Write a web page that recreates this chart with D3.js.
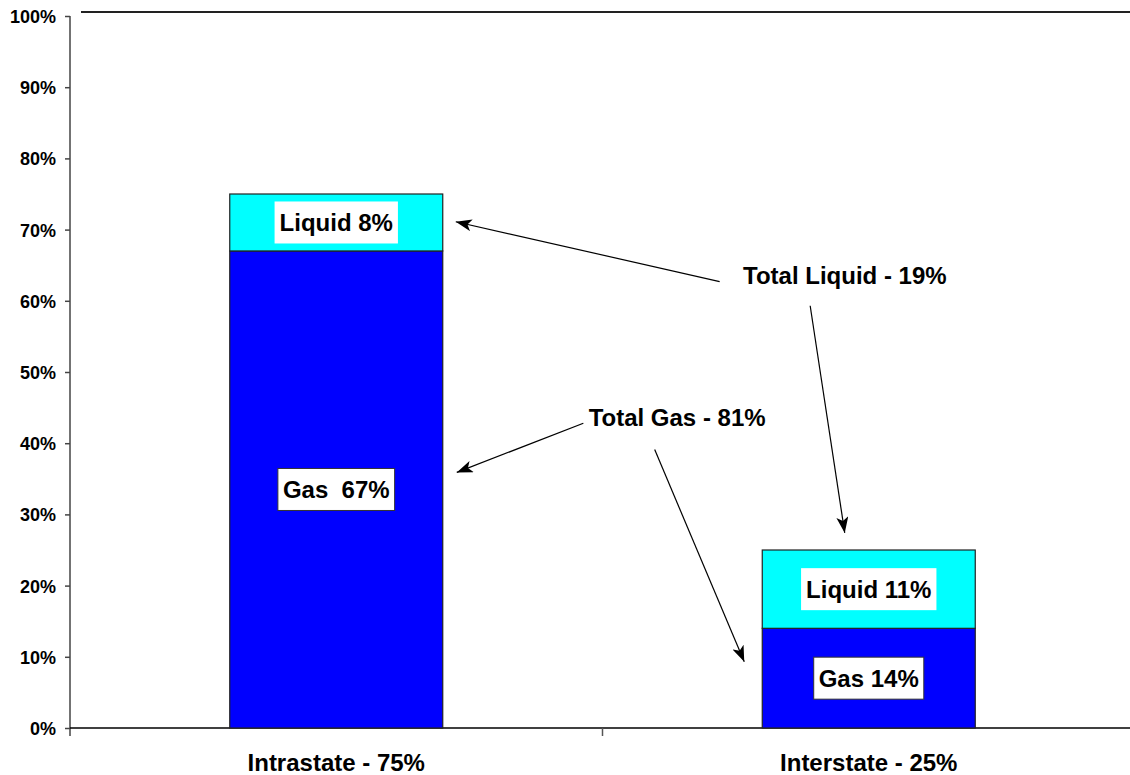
<!DOCTYPE html>
<html>
<head>
<meta charset="utf-8">
<script src="https://cdn.jsdelivr.net/npm/d3@7/dist/d3.min.js"></script>
<style>
  html, body { margin: 0; padding: 0; background: #fff; }
  svg { display: block; }
  text { font-family: Arial, "Liberation Sans", sans-serif; font-weight: bold; fill: #000; white-space: pre; }
</style>
</head>
<body>
<svg id="chart" width="1130" height="775"></svg>
<script>
// Share of volume by jurisdiction, split into gas and liquid
const categories = ["Intrastate - 75%", "Interstate - 25%"];
const gasValues = [67, 14];
const liquidValues = [8, 11];
const gasLabels = ["Gas  67%", "Gas 14%"];
const liquidLabels = ["Liquid 8%", "Liquid 11%"];
const yTicks = [0, 10, 20, 30, 40, 50, 60, 70, 80, 90, 100];

const svg = d3.select("#chart");
const W = 1130, H = 775;
const m = { left: 70, right: 1135, top: 16, bottom: 728 };

const x = d3.scaleBand().domain(categories).range([m.left, m.right]).paddingInner(0).paddingOuter(0);
const y = d3.scaleLinear().domain([0, 100]).range([m.bottom, m.top]);
const barW = x.bandwidth() * 0.4;
const cx = c => x(c) + x.bandwidth() / 2;

// frame line across the top of the plot area
svg.append("line")
  .attr("x1", m.left + 11).attr("x2", W)
  .attr("y1", m.top - 4).attr("y2", m.top - 4)
  .attr("stroke", "#222").attr("stroke-width", 2);

// y axis
const yAxis = svg.append("g").attr("transform", `translate(${m.left},0)`)
  .call(d3.axisLeft(y).tickValues(yTicks).tickFormat(d => d + "%").tickSize(5).tickPadding(9));
yAxis.select(".domain").remove();
yAxis.append("line").attr("x1", 0).attr("x2", 0).attr("y1", m.top).attr("y2", m.bottom + 8)
  .attr("stroke", "#444").attr("stroke-width", 1.5);
yAxis.selectAll(".tick line").attr("stroke", "#444").attr("stroke-width", 1.5);
yAxis.selectAll(".tick text").style("font-size", "18px").attr("dy", "0.36em");

// x axis
const xAxis = svg.append("g").attr("transform", `translate(0,${m.bottom})`);
xAxis.append("line").attr("x1", m.left).attr("x2", W).attr("stroke", "#000").attr("stroke-width", 1.5);
xAxis.selectAll(".sep").data(categories.slice(1)).enter().append("line")
  .attr("x1", d => x(d)).attr("x2", d => x(d)).attr("y1", 0).attr("y2", 8)
  .attr("stroke", "#555").attr("stroke-width", 1.5);
xAxis.selectAll(".cat").data(categories).enter().append("text")
  .attr("x", d => cx(d)).attr("y", 43)
  .attr("text-anchor", "middle").style("font-size", "24px")
  .text(d => d);

// stacked bars
const rows = categories.map((c, i) => ({
  cat: c, gas: gasValues[i], liquid: liquidValues[i],
  gasLabel: gasLabels[i], liquidLabel: liquidLabels[i]
}));

const bars = svg.append("g");
bars.selectAll(".gas").data(rows).enter().append("rect")
  .attr("x", d => cx(d.cat) - barW / 2).attr("width", barW)
  .attr("y", d => y(d.gas)).attr("height", d => y(0) - y(d.gas))
  .attr("fill", "#0000ff").attr("stroke", "#222").attr("stroke-width", 1.2);
bars.selectAll(".liq").data(rows).enter().append("rect")
  .attr("x", d => cx(d.cat) - barW / 2).attr("width", barW)
  .attr("y", d => y(d.gas + d.liquid)).attr("height", d => y(d.gas) - y(d.gas + d.liquid))
  .attr("fill", "#00ffff").attr("stroke", "#222").attr("stroke-width", 1.2);

// boxed segment labels
function boxedLabel(g, px, py, str, size, border) {
  const t = g.append("text").attr("x", px).attr("y", py).attr("dy", "0.36em")
    .attr("text-anchor", "middle").style("font-size", size + "px").text(str);
  const bb = t.node().getBBox();
  g.insert("rect", "text")
    .attr("x", bb.x - 5).attr("y", py - 21).attr("width", bb.width + 10).attr("height", 42)
    .attr("fill", "#fff").attr("stroke", border ? "#333" : "none").attr("stroke-width", 1);
}
rows.forEach(d => {
  const g1 = svg.append("g");
  boxedLabel(g1, cx(d.cat), y(d.gas / 2), d.gasLabel, 24, true);
  const g2 = svg.append("g");
  boxedLabel(g2, cx(d.cat), y(d.gas + d.liquid / 2), d.liquidLabel, 24, false);
});

// callouts with arrows
const defs = svg.append("defs");
defs.append("marker").attr("id", "head").attr("viewBox", "0 0 16 12")
  .attr("refX", 16).attr("refY", 6).attr("markerWidth", 16).attr("markerHeight", 12)
  .attr("markerUnits", "userSpaceOnUse").attr("orient", "auto")
  .append("path").attr("d", "M0,0 L16,6 L0,12 L4,6 Z").attr("fill", "#000");

const px = d3.scaleLinear().domain([0, 1]).range([m.left, m.right]);
const barL = c => cx(c) - barW / 2, barR = c => cx(c) + barW / 2;

const callouts = [
  { text: "Total Liquid - 19%", tx: px(0.632), ty: y(62.3) },
  { text: "Total Gas - 81%", tx: px(0.487), ty: y(42.4) }
];
svg.selectAll(".callout").data(callouts).enter().append("text")
  .attr("x", d => d.tx).attr("y", d => d.ty)
  .style("font-size", "24px").text(d => d.text);

const arrows = [
  { x1: px(0.61), y1: y(62.7), x2: barR(categories[0]) + 13, y2: y(71.1) },
  { x1: px(0.695), y1: y(59.3), x2: cx(categories[1]) - 24, y2: y(27.4) },
  { x1: px(0.482), y1: y(42.8), x2: barR(categories[0]) + 14, y2: y(35.9) },
  { x1: px(0.549), y1: y(39.1), x2: barL(categories[1]) - 18, y2: y(9.3) }
];
svg.selectAll(".arrow").data(arrows).enter().append("line")
  .attr("x1", d => d.x1).attr("y1", d => d.y1).attr("x2", d => d.x2).attr("y2", d => d.y2)
  .attr("stroke", "#000").attr("stroke-width", 1.2).attr("marker-end", "url(#head)");
</script>
</body>
</html>
